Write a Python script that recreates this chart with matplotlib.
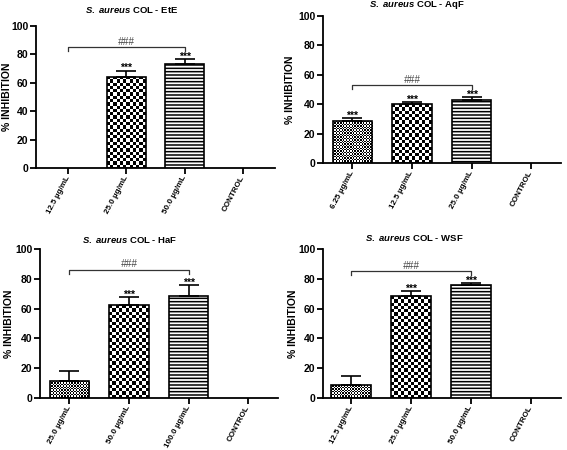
import numpy as np
import matplotlib
matplotlib.use("Agg")
from matplotlib import pyplot as plt

plt.rcParams['font.family'] = ['Liberation Sans', 'DejaVu Sans']
plt.rcParams['mathtext.fontset'] = 'custom'
plt.rcParams['mathtext.it'] = 'Liberation Sans:italic:bold'
plt.rcParams['mathtext.rm'] = 'Liberation Sans:bold'
plt.rcParams['hatch.linewidth'] = 1.1

# data (mean % inhibition and error)
ete_labels = ['12.5 µg/mL', '25.0 µg/mL', '50.0 µg/mL', 'CONTROL']
ete_mean = [0, 64.3, 73.3, 0]
ete_err = [0, 4.3, 3.3, 0]
ete_stars = ['', '***', '***', '']

aqf_labels = ['6.25 µg/mL', '12.5 µg/mL', '25.0 µg/mL', 'CONTROL']
aqf_mean = [28.4, 39.8, 43.0, 0]
aqf_err = [2.2, 1.5, 1.8, 0]
aqf_stars = ['***', '***', '***', '']

haf_labels = ['25.0 µg/mL', '50.0 µg/mL', '100.0 µg/mL', 'CONTROL']
haf_mean = [11.2, 62.3, 68.2, 0]
haf_err = [7.0, 5.7, 7.4, 0]
haf_stars = ['', '***', '***', '']

wsf_labels = ['12.5 µg/mL', '25.0 µg/mL', '50.0 µg/mL', 'CONTROL']
wsf_mean = [9.0, 68.4, 75.8, 0]
wsf_err = [5.8, 3.3, 1.6, 0]
wsf_stars = ['', '***', '***', '']

titles = ['EtE', 'AqF', 'HaF', 'WSF']
bracket_y = [85, 53, 86, 85]

W, H = 567, 450
fig = plt.figure(figsize=(W / 100, H / 100), dpi=100)

# pixel boxes: left, right, top(y=100), bottom(y=0)
boxes = [(36, 275, 26, 168), (323, 561, 16, 163), (40, 278, 249, 398), (323, 561, 249, 398)]
xlims = [(-0.55, 3.55), (-0.49, 3.5), (-0.49, 3.5), (-0.47, 3.5)]
title_pos = [(132, 10), (417, 5), (130, 240), (414, 238)]
ylab_x = [12, 295, 14, 298]

kinds = ['fine', 'coarse', 'lines', None]


def checker(nx, ny):
    yy, xx = np.indices((ny, nx))
    return ((xx + yy) % 2).astype(float)


def panel(i, labels, mean, err, stars):
    l, r, t, b = boxes[i]
    ax = fig.add_axes([l / W, 1 - b / H, (r - l) / W, (b - t) / H])
    ax.set_xlim(*xlims[i])
    ax.set_ylim(0, 100)
    x = np.arange(len(labels))
    w = 0.66
    sx = (r - l) / (xlims[i][1] - xlims[i][0])  # px per x unit
    sy = (b - t) / 100.0
    for k in range(len(labels)):
        if mean[k] <= 0:
            continue
        kind = kinds[k]
        if kind == 'lines':
            ax.bar(x[k], mean[k], w, facecolor='white', edgecolor='black',
                   linewidth=1.2, hatch='-----', zorder=3)
        else:
            bar = ax.bar(x[k], mean[k], w, facecolor='none', edgecolor='black',
                         linewidth=1.2, zorder=3)[0]
            cell = 1.4 if kind == 'fine' else 3.3
            nx = max(1, int(round(w * sx / cell)))
            ny = max(1, int(round(mean[k] * sy / cell)))
            im = ax.imshow(checker(nx, ny), cmap='gray', interpolation='nearest',
                           extent=(x[k] - w / 2, x[k] + w / 2, 0, mean[k]),
                           aspect='auto', zorder=2)
            im.set_clip_path(bar)
        if err[k] > 0:
            ax.errorbar(x[k], mean[k], yerr=[[0], [err[k]]], fmt='none',
                        ecolor='black', elinewidth=1.2, capsize=7.2,
                        capthick=1.2, zorder=4)
        if stars[k]:
            ax.annotate(stars[k], (x[k], mean[k] + err[k]), xytext=(0, -0.5),
                        textcoords='offset points', ha='center', va='baseline',
                        fontsize=7.5, fontweight='bold', zorder=5)
    ax.set_xlim(*xlims[i])
    ax.set_ylim(0, 100)

    # bracket 1st vs 3rd dose
    by = bracket_y[i]
    d = 4.0 / sy
    ax.plot([x[0], x[0], x[2], x[2]], [by - d, by, by, by - d],
            color='#333333', lw=0.9, clip_on=False)
    ax.annotate('###', ((x[0] + x[2]) / 2, by), xytext=(0, 1.7),
                textcoords='offset points', ha='center', va='baseline',
                fontsize=7.2, style='italic', color='#444444')

    for s in ['top', 'right']:
        ax.spines[s].set_visible(False)
    for s in ['left', 'bottom']:
        ax.spines[s].set_linewidth(1.3)
    ax.set_yticks([0, 20, 40, 60, 80, 100])
    ax.tick_params(axis='y', length=4, width=1.3, labelsize=7.5, pad=1.5)
    ax.tick_params(axis='x', length=4, width=1.3, labelsize=5.8, pad=2)
    for lab in ax.get_yticklabels():
        lab.set_fontweight('bold')
    ax.set_xticks(x)
    ax.set_xticklabels(labels, rotation=62, ha='right', va='center',
                       rotation_mode='anchor', fontweight='bold')
    ax.set_ylabel('% INHIBITION', fontsize=7.5, fontweight='bold')
    ax.yaxis.set_label_coords(-(l - ylab_x[i]) / (r - l), 0.5)

    tx, ty = title_pos[i]
    fig.text(tx / W, 1 - ty / H, r'$\mathit{S.\ aureus}$ COL - ' + titles[i],
             ha='center', va='center', fontsize=6.8, fontweight='bold')


panel(0, ete_labels, ete_mean, ete_err, ete_stars)
panel(1, aqf_labels, aqf_mean, aqf_err, aqf_stars)
panel(2, haf_labels, haf_mean, haf_err, haf_stars)
panel(3, wsf_labels, wsf_mean, wsf_err, wsf_stars)

fig.savefig('out.png', dpi=100)
